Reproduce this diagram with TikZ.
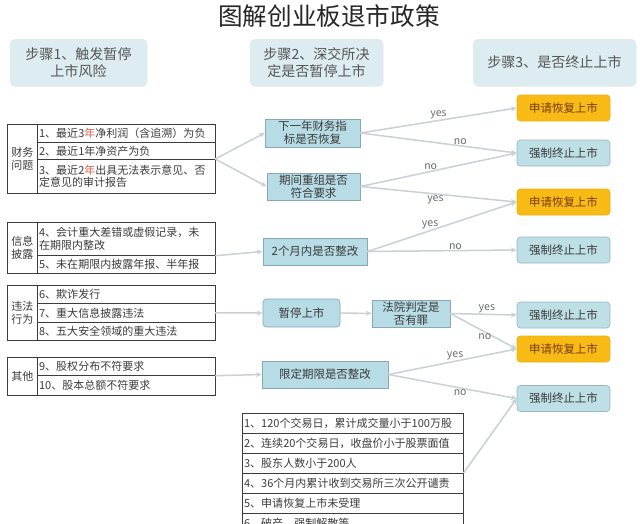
\documentclass[tikz,border=0pt]{standalone}
\usepackage{fontspec}
\setmainfont{Noto Sans CJK SC}
\usepackage{tikz}
\usetikzlibrary{positioning, arrows.meta}
\usetikzlibrary{shadows}

\definecolor{headfill}{HTML}{DCECF0}
\definecolor{headtext}{HTML}{555555}
\definecolor{midfill}{HTML}{B7DCE5}
\definecolor{midline}{HTML}{86A9B2}
\definecolor{endfill}{HTML}{BEDFE6}
\definecolor{endline}{HTML}{97B9C2}
\definecolor{okfill}{HTML}{F8BB16}
\definecolor{okline}{HTML}{F0AE0A}
\definecolor{oktext}{HTML}{7A3A10}
\definecolor{arrowgray}{HTML}{C9D1D4}
\definecolor{labelgray}{HTML}{6A6A6A}
\definecolor{tabline}{HTML}{3C3C3C}
\definecolor{tabtext}{HTML}{3A3A3A}
\definecolor{yearred}{HTML}{D9604E}

\newcommand{\tabfont}{\fontsize{9.4}{11}\selectfont}
\newcommand{\boxfont}{\fontsize{9.8}{11.2}\selectfont}

\begin{document}
\begin{tikzpicture}[x=0.03cm, y=-0.03cm]
        % Define styles for shapes
        \tikzstyle{headbox} = [fill=headfill, rounded corners=4pt, minimum height=1.41cm, text=headtext, align=center, font=\fontsize{12}{14.5}\selectfont, drop shadow={opacity=0.12, shadow xshift=0.5pt, shadow yshift=-0.8pt}]
        \tikzstyle{tagcell} = [draw=tabline, line width=0.6pt, anchor=north west, minimum width=0.9cm, inner sep=0pt, align=center, text=tabtext, font=\tabfont]
        \tikzstyle{rowcell} = [draw=tabline, line width=0.6pt, anchor=north west, text width=5.22cm, inner xsep=1.5pt, inner ysep=0pt, align=left, text=tabtext, font=\tabfont]
        \tikzstyle{listcell} = [rowcell, text width=6.52cm, minimum height=0.6cm]
        \tikzstyle{checkbox} = [draw=midline, fill=midfill, line width=0.6pt, inner sep=0pt, align=center, text=tabtext, font=\boxfont]
        \tikzstyle{endbox} = [draw=endline, fill=endfill, rounded corners=3pt, line width=0.6pt, minimum width=2.79cm, minimum height=0.78cm, inner sep=0pt, text=tabtext, font=\boxfont]
        \tikzstyle{okbox} = [endbox, draw=okline, fill=okfill, text=oktext]
        \tikzstyle{flow} = [draw=arrowgray, line width=1.3pt, -{Stealth[length=5pt, width=4.5pt]}]
        \tikzstyle{answer} = [font=\fontsize{9}{10}\selectfont, text=labelgray, inner sep=0.5pt]

        \path[use as bounding box, clip] (0,0) rectangle (640,523);

        % Draw title and steps
        \node[font=\fontsize{21}{24}\selectfont, text=black!85] (title) at (329,16) {图解创业板退市政策};
        \node[headbox, minimum width=4.11cm] (step1) at (78.5,62.5) {步骤1、触发暂停\\上市风险};
        \node[headbox, minimum width=3.99cm] (step2) at (316.5,62.5) {步骤2、深交所决\\定是否暂停上市};
        \node[headbox, minimum width=4.89cm] (step3) at (554.5,62.5) {步骤3、是否终止上市};

        % Draw tables of step 1
        \node[tagcell, minimum height=2.07cm] (tag1) at (7,124) {财务\\问题};
        \node[rowcell, minimum height=0.54cm] (f1) at (37,124) {1、最近3{\color{yearred}年}净利润（含追溯）为负};
        \node[rowcell, minimum height=0.51cm] (f2) at (37,142) {2、最近1年净资产为负};
        \node[rowcell, minimum height=1.02cm] (f3) at (37,159) {3、最近2{\color{yearred}年}出具无法表示意见、否\\定意见的审计报告};

        \node[tagcell, minimum height=1.53cm] (tag2) at (7,222) {信息\\披露};
        \node[rowcell, minimum height=0.99cm] (i4) at (37,222) {4、会计重大差错或虚假记录，未\\在期限内整改};
        \node[rowcell, minimum height=0.54cm] (i5) at (37,255) {5、未在期限内披露年报、半年报};

        \node[tagcell, minimum height=1.65cm] (tag3) at (7,285) {违法\\行为};
        \node[rowcell, minimum height=0.54cm] (v6) at (37,285) {6、欺诈发行};
        \node[rowcell, minimum height=0.57cm] (v7) at (37,303) {7、重大信息披露违法};
        \node[rowcell, minimum height=0.54cm] (v8) at (37,322) {8、五大安全领域的重大违法};

        \node[tagcell, minimum height=1.14cm] (tag4) at (7,357) {其他};
        \node[rowcell, minimum height=0.54cm] (q9) at (37,357) {9、股权分布不符要求};
        \node[rowcell, minimum height=0.6cm] (q10) at (37,375) {10、股本总额不符要求};

        % Draw checks of step 2
        \node[checkbox, minimum width=2.85cm, minimum height=0.84cm] (nextyear) at (312.5,133) {下一年财务指\\标是否恢复};
        \node[checkbox, minimum width=2.79cm, minimum height=0.81cm] (regroup) at (313.5,186.5) {期间重组是否\\符合要求};
        \node[checkbox, minimum width=3.12cm, minimum height=0.81cm] (twomonth) at (315,251.5) {2个月内是否整改};
        \node[checkbox, rounded corners=3pt, minimum width=2.31cm, minimum height=0.84cm] (suspend) at (301.5,313) {暂停上市};
        \node[checkbox, minimum width=2.34cm, minimum height=0.81cm] (court) at (411,313.5) {法院判定是\\否有罪};
        \node[checkbox, minimum width=3.78cm, minimum height=0.81cm] (deadline) at (325,374.5) {限定期限是否整改};

        % Draw results of step 3
        \node[okbox] (resume1) at (563.5,108) {申请恢复上市};
        \node[endbox] (stop1) at (563.5,153) {强制终止上市};
        \node[okbox] (resume2) at (563.5,202) {申请恢复上市};
        \node[endbox] (stop2) at (563.5,250) {强制终止上市};
        \node[endbox] (stop3) at (563.5,315) {强制终止上市};
        \node[okbox] (resume3) at (563.5,349) {申请恢复上市};
        \node[endbox] (stop4) at (563.5,398.5) {强制终止上市};

        % Draw list of direct delisting
        \node[listcell] (b1) at (242,413) {1、120个交易日，累计成交量小于100万股};
        \node[listcell] (b2) at (242,433) {2、连续20个交易日，收盘价小于股票面值};
        \node[listcell] (b3) at (242,453) {3、股东人数小于200人};
        \node[listcell] (b4) at (242,473) {4、36个月内累计收到交易所三次公开谴责};
        \node[listcell] (b5) at (242,493) {5、申请恢复上市未受理};
        \node[listcell] (b6) at (242,513) {6、破产、强制解散等};

        % Draw arrows
        \draw[flow] (f3.north east) -- (nextyear.west);
        \draw[flow] (f3.north east) -- (regroup.west);
        \draw[flow] (i4.south east) -- (twomonth.west);
        \draw[flow] (v7.east) -- (suspend.west);
        \draw[flow] (q9.south east) -- (deadline.west);
        \draw[flow] (suspend) -- (court);
        \draw[flow] (nextyear.east) -- (resume1.west) node[answer, midway, above] {yes};
        \draw[flow] (nextyear.east) -- (stop1.west) node[answer, pos=0.64, above] {no};
        \draw[flow] (regroup.east) -- (stop1.west) node[answer, pos=0.45, above] {no};
        \draw[flow] (regroup.east) -- (resume2.west) node[answer, pos=0.48, below] {yes};
        \draw[flow] (twomonth.east) -- (resume2.west) node[answer, pos=0.42, above] {yes};
        \draw[flow] (twomonth.east) -- (stop2.west) node[answer, pos=0.59, above] {no};
        \draw[flow] (court.east) -- (stop3.west) node[answer, pos=0.55, above] {yes};
        \draw[flow] (court.east) -- (resume3.west) node[answer, pos=0.52, below] {no};
        \draw[flow] (deadline.east) -- (resume3.west) node[answer, pos=0.52, above] {yes};
        \draw[flow] (deadline.east) -- (stop4.west) node[answer, pos=0.56, below] {no};
        \draw[flow] (b4.north east) -- (stop4.west);
\end{tikzpicture}
\end{document}
